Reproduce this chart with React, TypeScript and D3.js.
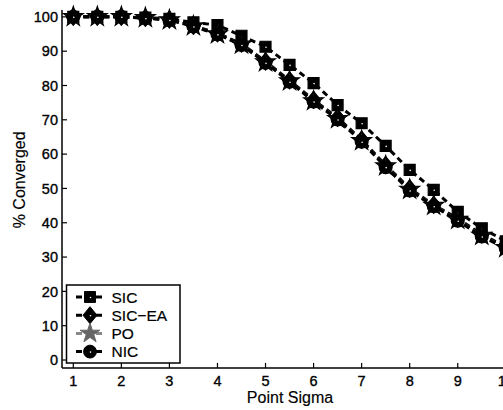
import React from "react";
import * as d3 from "d3";

const xValues = [1, 1.5, 2, 2.5, 3, 3.5, 4, 4.5, 5, 5.5, 6, 6.5, 7, 7.5, 8, 8.5, 9, 9.5, 10];
const sic = [100, 100, 100, 99.8, 99.4, 98.4, 97.6, 94.5, 91.3, 86.0, 80.7, 74.3, 69.0, 62.4, 55.4, 49.6, 43.2, 38.4, 34.6];
const sicEa = [100, 100, 100, 99.7, 99.2, 97.4, 95.2, 92.2, 87.0, 81.5, 75.8, 70.6, 64.2, 56.8, 50.0, 45.2, 41.2, 36.6, 33.0];
const po = [100, 100, 100, 99.7, 99.1, 97.3, 95.0, 92.0, 86.8, 81.3, 75.5, 70.3, 63.9, 56.5, 49.7, 45.0, 40.9, 36.3, 32.7];
const nic = [100, 100, 100, 99.6, 99.1, 97.2, 94.9, 91.8, 86.6, 81.1, 75.3, 70.1, 63.6, 56.2, 49.4, 44.8, 40.6, 36.0, 32.5];
const seriesNames = ["SIC", "SIC\u2212EA", "PO", "NIC"];
const xTicks = [1, 2, 3, 4, 5, 6, 7, 8, 9, 10];
const yTicks = [0, 10, 20, 30, 40, 50, 60, 70, 80, 90, 100];

const W = 503, H = 410;
const x = d3.scaleLinear().domain([0.765, 10]).range([62, 505.8]);
const y = d3.scaleLinear().domain([-2.3, 102]).range([367.9, 10]);

const font = "'Liberation Sans', Arial, Helvetica, sans-serif";

function markerPath(kind: string): string {
  if (kind === "square") return d3.symbol(d3.symbolSquare, 120)() as string;
  if (kind === "circle") return d3.symbol(d3.symbolCircle, 130)() as string;
  if (kind === "star") return d3.symbol(d3.symbolStar, 120)() as string;
  // tall diamond
  return "M0,-8.5L7,0L0,8.5L-7,0Z";
}

const seriesData = [
  { name: seriesNames[0], values: sic, marker: "square", color: "#000" },
  { name: seriesNames[1], values: sicEa, marker: "diamond", color: "#000" },
  { name: seriesNames[2], values: po, marker: "star", color: "#222" },
  { name: seriesNames[3], values: nic, marker: "circle", color: "#000" },
];

export default function App() {
  const line = d3
    .line<number>()
    .x((_, i) => x(xValues[i]))
    .y((d) => y(d));
  const x0 = x.range()[0];
  const y0 = y.range()[0];

  return (
    <svg
      width={W}
      height={H}
      style={{ position: "absolute", left: 0, top: 0, display: "block", background: "#fff" }}
      fontFamily={font}
    >
      <defs>
        <clipPath id="plotclip">
          <rect x={x0} y={0} width={W - x0} height={y0} />
        </clipPath>
      </defs>
      {/* axes */}
      <line x1={x0} x2={x0} y1={y.range()[1]} y2={y0} stroke="#000" strokeWidth={1.5} />
      <line x1={x0} x2={W} y1={y0} y2={y0} stroke="#000" strokeWidth={1.5} />
      {yTicks.map((t) => (
        <g key={"y" + t}>
          <line x1={x0} x2={x0 + 5} y1={y(t)} y2={y(t)} stroke="#000" strokeWidth={1.2} />
          <text
            x={x0 - 4}
            y={y(t)}
            dy="0.36em"
            textAnchor="end"
            fontSize={14.5}
            fill="#000"
            stroke="#000"
            strokeWidth={0.35}
          >
            {t}
          </text>
        </g>
      ))}
      {xTicks.map((t) => (
        <g key={"x" + t}>
          <line x1={x(t)} x2={x(t)} y1={y0} y2={y0 - 5} stroke="#000" strokeWidth={1.2} />
          <text
            x={x(t)}
            y={386}
            textAnchor="middle"
            fontSize={14.5}
            fill="#000"
            stroke="#000"
            strokeWidth={0.35}
          >
            {t}
          </text>
        </g>
      ))}
      <text
        transform={`translate(24.5, ${y(52.5)}) rotate(-90)`}
        textAnchor="middle"
        fontSize={16}
        fill="#000"
        stroke="#000"
        strokeWidth={0.15}
      >
        % Converged
      </text>
      <text x={290} y={402.5} textAnchor="middle" fontSize={16} fill="#000" stroke="#000" strokeWidth={0.15}>
        Point Sigma
      </text>

      {/* series */}
      <g clipPath="url(#plotclip)">
        {seriesData.map((s) => (
          <path
            key={"l" + s.name}
            d={line(s.values) as string}
            fill="none"
            stroke={s.color}
            strokeWidth={3}
            strokeDasharray="6,4"
          />
        ))}
        {seriesData.map((s) => (
          <g key={"m" + s.name}>
            {s.values.map((v, i) => (
              <g key={i} transform={`translate(${x(xValues[i])},${y(v)})`}>
                <path d={markerPath(s.marker)} fill={s.color} stroke="#000" strokeWidth={1.2} />
                <circle r={0.8} cx={0.5} cy={0.5} fill="#fff" />
              </g>
            ))}
          </g>
        ))}
      </g>

      {/* legend */}
      <g>
        <rect x={66.5} y={285} width={113.5} height={78} fill="#fff" stroke="#000" strokeWidth={1.5} />
        {seriesData.map((s, i) => {
          const ly = 297 + i * 18.2;
          const isStar = s.marker === "star";
          return (
            <g key={"lg" + s.name}>
              <line x1={76} x2={104} y1={ly} y2={ly} stroke={isStar ? "#888" : "#000"} strokeWidth={3} strokeDasharray="6,4" />
              <g transform={`translate(90,${ly})`}>
                <path d={markerPath(s.marker)} fill={isStar ? "#666" : "#000"} stroke={isStar ? "#666" : "#000"} strokeWidth={1} />
                {!isStar && <circle r={0.8} cx={0.5} cy={0.5} fill="#fff" />}
              </g>
              <text x={111.5} y={ly} dy="0.36em" fontSize={15.5} fill="#000" stroke="#000" strokeWidth={0.2}>
                {s.name}
              </text>
            </g>
          );
        })}
      </g>
    </svg>
  );
}
